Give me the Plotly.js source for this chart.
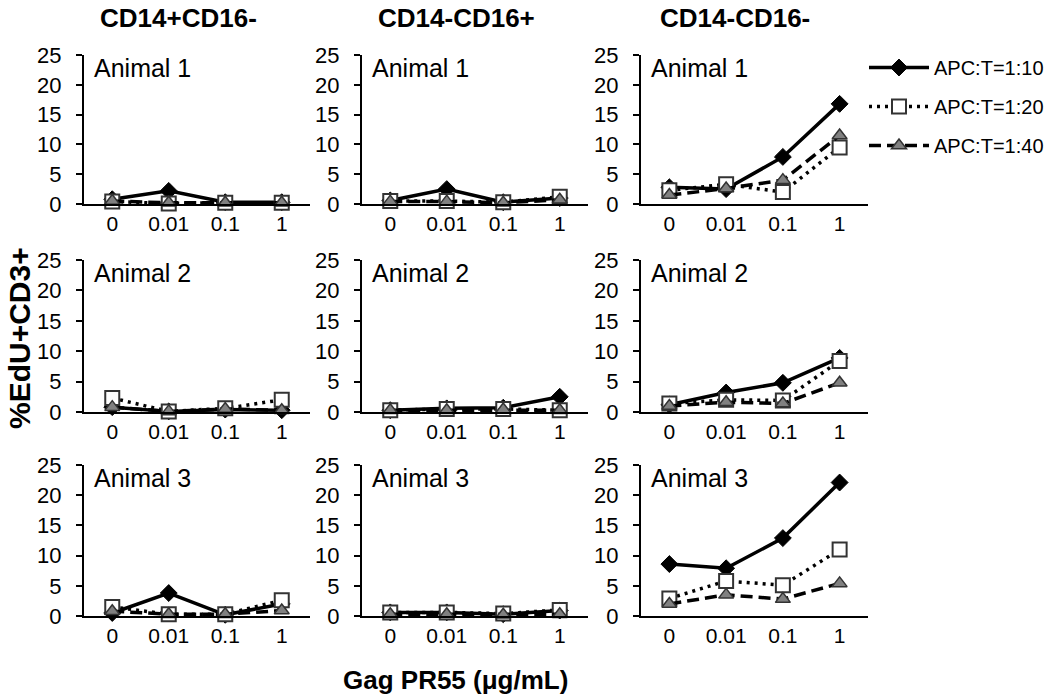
<!DOCTYPE html>
<html>
<head>
<meta charset="utf-8">
<script src="https://cdn.plot.ly/plotly-3.0.1.min.js"></script>
<style>html,body{margin:0;padding:0;background:#fff;}#chart{width:1050px;height:700px;}</style>
</head>
<body>
<div id="chart"></div>
<script>
// Categories and labels
const doses = ['0', '0.01', '0.1', '1'];
const seriesNames = ['APC:T=1:10', 'APC:T=1:20', 'APC:T=1:40'];
const populations = ['CD14+CD16-', 'CD14-CD16+', 'CD14-CD16-'];
const animals = ['Animal 1', 'Animal 2', 'Animal 3'];
const yTicks = [0, 5, 10, 15, 20, 25];

// %EdU+CD3+ values: [1:10, 1:20, 1:40] per panel
const cd14pos_animal1 = [[0.8, 2.2, 0.3, 0.3], [0.4, 0.1, 0.2, 0.2], [0.5, 0.2, 0.2, 0.2]];
const cd14pos_animal2 = [[0.8, 0.1, 0.4, 0.3], [2.3, 0.1, 0.6, 2.0], [0.8, 0.1, 0.5, 0.3]];
const cd14pos_animal3 = [[0.5, 3.8, 0.2, 2.0], [1.5, 0.3, 0.3, 2.6], [0.8, 0.3, 0.3, 0.9]];

const cd16pos_animal1 = [[0.6, 2.5, 0.3, 1.0], [0.5, 0.5, 0.3, 1.2], [0.4, 0.4, 0.2, 0.7]];
const cd16pos_animal2 = [[0.3, 0.6, 0.7, 2.5], [0.3, 0.5, 0.5, 0.3], [0.3, 0.3, 0.4, 0.3]];
const cd16pos_animal3 = [[0.6, 0.6, 0.3, 0.9], [0.6, 0.6, 0.4, 1.0], [0.3, 0.3, 0.2, 0.3]];

const dneg_animal1 = [[2.8, 2.5, 7.9, 16.8], [2.3, 3.3, 2.0, 9.5], [1.5, 2.6, 4.0, 11.5]];
const dneg_animal2 = [[1.2, 3.2, 4.8, 8.9], [1.4, 2.0, 1.9, 8.4], [1.0, 1.6, 1.4, 4.8]];
const dneg_animal3 = [[8.6, 7.9, 12.9, 22.1], [2.9, 5.8, 5.1, 11.0], [2.0, 3.5, 2.8, 5.4]];

const panels = [
  [cd14pos_animal1, cd16pos_animal1, dneg_animal1],
  [cd14pos_animal2, cd16pos_animal2, dneg_animal2],
  [cd14pos_animal3, cd16pos_animal3, dneg_animal3]
];

// Styles
const lineStyles = [
  {color: '#000000', width: 3.5, dash: 'solid'},
  {color: '#000000', width: 3.5, dash: '3px,5px'},
  {color: '#000000', width: 3.5, dash: '12px,6px'}
];
const markerStyles = [
  {symbol: 'diamond', size: 13, color: '#000000', line: {color: '#000000', width: 1}},
  {symbol: 'square', size: 14, color: '#ffffff', line: {color: '#333333', width: 2}},
  {symbol: 'triangle-up', size: 13, color: '#808080', line: {color: '#333333', width: 1.5}}
];

const W = 1050, H = 700;
const colX = [[84, 310], [362, 588], [641, 868]];
const rowY = [[55, 204], [260, 412], [465, 616]];

const traces = [];
const layout = {
  width: W, height: H,
  margin: {l: 0, r: 0, t: 0, b: 0},
  paper_bgcolor: '#ffffff',
  plot_bgcolor: 'rgba(0,0,0,0)',
  font: {family: 'Liberation Sans, Arial, sans-serif', color: '#000000'},
  showlegend: true,
  legend: {
    x: 864 / W, y: 1 - 48 / H, xanchor: 'left', yanchor: 'top',
    font: {size: 20, family: 'Liberation Sans, Arial, sans-serif'},
    itemwidth: 60, tracegroupgap: 10, traceorder: 'grouped',
    bgcolor: 'rgba(0,0,0,0)', borderwidth: 0
  },
  annotations: []
};

let idx = 0;
for (let r = 0; r < 3; r++) {
  for (let c = 0; c < 3; c++) {
    idx++;
    const xa = 'xaxis' + (idx === 1 ? '' : idx);
    const ya = 'yaxis' + (idx === 1 ? '' : idx);
    const xr = 'x' + (idx === 1 ? '' : idx);
    const yr = 'y' + (idx === 1 ? '' : idx);
    layout[xa] = {
      domain: [colX[c][0] / W, colX[c][1] / W],
      anchor: yr, type: 'category', range: [-0.5, 3.5],
      showline: true, linecolor: '#000000', linewidth: 2,
      showgrid: false, zeroline: false, ticks: '',
      tickfont: {size: 21}, fixedrange: true
    };
    layout[ya] = {
      domain: [1 - rowY[r][1] / H, 1 - rowY[r][0] / H],
      anchor: xr, range: [0, 25], tickvals: yTicks,
      showline: true, linecolor: '#000000', linewidth: 2,
      ticks: 'outside', ticklen: 6, tickwidth: 2, tickcolor: '#000000',
      ticklabelstandoff: 10,
      showgrid: false, zeroline: false,
      tickfont: {size: 22}, fixedrange: true
    };
    const data = panels[r][c];
    for (let s = 0; s < 3; s++) {
      traces.push({
        type: 'scatter', mode: 'lines+markers',
        x: doses, y: data[s],
        xaxis: xr, yaxis: yr,
        name: seriesNames[s], legendgroup: 'g' + s,
        showlegend: idx === 1,
        line: lineStyles[s], marker: markerStyles[s],
        cliponaxis: false, hoverinfo: 'skip'
      });
    }
    layout.annotations.push({
      text: animals[r], xref: 'paper', yref: 'paper',
      x: (colX[c][0] + 8) / W, y: 1 - (rowY[r][0] + 13) / H,
      xanchor: 'left', yanchor: 'middle', showarrow: false,
      font: {size: 25}
    });
  }
}

const colTitleX = [178, 456, 735];
for (let c = 0; c < 3; c++) {
  layout.annotations.push({
    text: '<b>' + populations[c] + '</b>', xref: 'paper', yref: 'paper',
    x: colTitleX[c] / W, y: 1 - 18 / H, xanchor: 'center', yanchor: 'middle',
    showarrow: false, font: {size: 26}
  });
}
layout.annotations.push({
  text: '<b>Gag PR55 (μg/mL)</b>', xref: 'paper', yref: 'paper',
  x: 455 / W, y: 1 - 680 / H, xanchor: 'center', yanchor: 'middle',
  showarrow: false, font: {size: 26}
});
layout.annotations.push({
  text: '<b>%EdU+CD3+</b>', xref: 'paper', yref: 'paper',
  x: 19 / W, y: 1 - 338 / H, xanchor: 'center', yanchor: 'middle',
  textangle: -90, showarrow: false, font: {size: 30}
});

Plotly.newPlot('chart', traces, layout, {staticPlot: true, displayModeBar: false});
</script>
</body>
</html>
